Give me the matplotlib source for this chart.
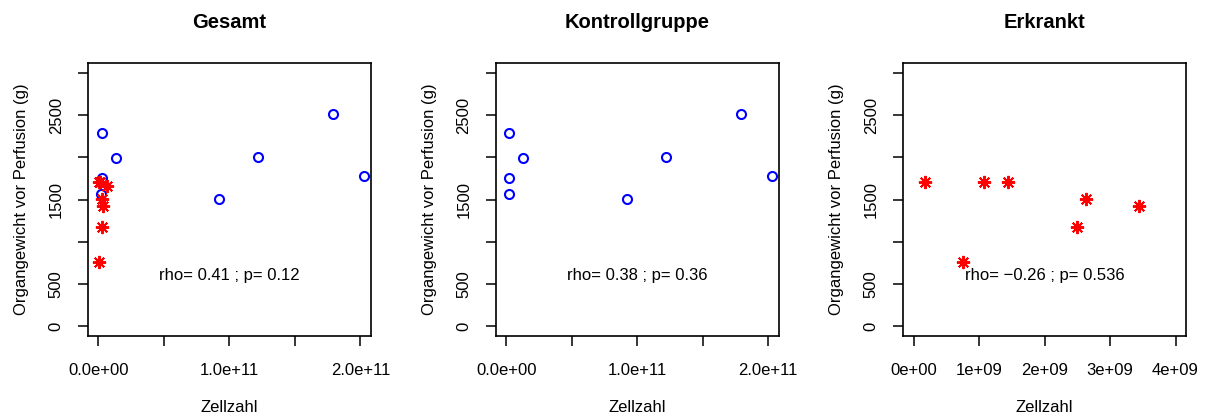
import numpy as np
import matplotlib
matplotlib.use("Agg")
import matplotlib.pyplot as plt

plt.rcParams['font.family'] = ['Liberation Sans', 'DejaVu Sans']

# Kontrollgruppe (blue circles)
kontroll_zellzahl = [2.3e9, 1.32e10, 2.5e9, 1.8e9, 9.2e10, 1.22e11, 1.79e11, 2.03e11]
kontroll_gewicht = [2290, 1990, 1750, 1570, 1510, 2010, 2520, 1785]

# Erkrankt (red asterisks); last point lies outside the Erkrankt x range
erkrankt_zellzahl = [0.18e9, 0.755e9, 1.07e9, 1.435e9, 2.5e9, 2.635e9, 3.435e9, 6.6e9]
erkrankt_gewicht = [1710, 755, 1710, 1710, 1180, 1510, 1420, 1655]

titles = ['Gesamt', 'Kontrollgruppe', 'Erkrankt']
stats = ['rho= 0.41 ; p= 0.12', 'rho= 0.38 ; p= 0.36', 'rho= \u22120.26 ; p= 0.536']
x_max = [2e11, 2e11, 4e9]
x_ticks = [[0, 5e10, 1e11, 1.5e11, 2e11],
           [0, 5e10, 1e11, 1.5e11, 2e11],
           [0, 1e9, 2e9, 3e9, 4e9]]
x_ticklabels = [['0.0e+00', '', '1.0e+11', '', '2.0e+11'],
                ['0.0e+00', '', '1.0e+11', '', '2.0e+11'],
                ['0e+00', '1e+09', '2e+09', '3e+09', '4e+09']]
y_ticks = [0, 500, 1000, 1500, 2000, 2500, 3000]
y_ticklabels = ['0', '500', '', '1500', '', '2500', '']

fig = plt.figure(figsize=(12.09, 4.17), dpi=100)
lefts = [0.0728, 0.410, 0.747]
star = (8, 2, 0)

for i in range(3):
    ax = fig.add_axes([lefts[i], 0.194, 0.234, 0.655])
    if i in (0, 1):
        ax.plot(kontroll_zellzahl, kontroll_gewicht, linestyle='none', marker='o',
                markersize=6.5, markerfacecolor='none', markeredgecolor='#0000FF',
                markeredgewidth=1.5)
    if i in (0, 2):
        ax.plot(erkrankt_zellzahl, erkrankt_gewicht, linestyle='none', marker=star,
                markersize=9.5, color='#FF0000', markeredgewidth=1.4)
    xm = x_max[i]
    ax.set_xlim(-0.04 * xm, 1.04 * xm)
    ax.set_ylim(-120, 3120)
    ax.set_xticks(x_ticks[i])
    ax.set_xticklabels(x_ticklabels[i])
    ax.set_yticks(y_ticks)
    ax.set_yticklabels(y_ticklabels, rotation=90, va='center')
    ax.tick_params(direction='out', length=7.5, width=1.1, labelsize=12, color='black')
    ax.tick_params(axis='x', pad=12)
    ax.tick_params(axis='y', pad=10)
    for s in ax.spines.values():
        s.set_linewidth(1.2)
    ax.text(xm / 2, 600, stats[i], ha='center', va='center', fontsize=12)
    ax.set_title(titles[i], fontsize=14.5, fontweight='bold', pad=25)
    ax.set_xlabel('Zellzahl', fontsize=12, labelpad=16)
    ax.set_ylabel('Organgewicht vor Perfusion (g)', fontsize=12, labelpad=14)

fig.savefig('out.png', dpi=100)
